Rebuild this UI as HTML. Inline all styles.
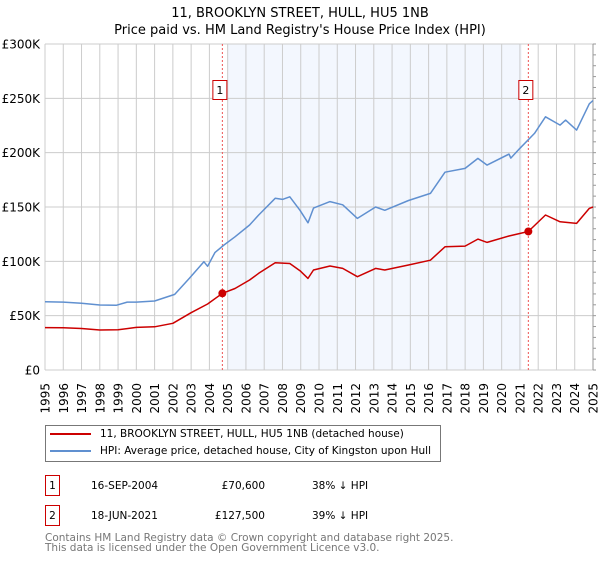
<!DOCTYPE html>
<html><head><meta charset="utf-8">
<style>
html,body{margin:0;padding:0;background:#fff;}
body{width:600px;height:560px;overflow:hidden;font-family:"DejaVu Sans","Liberation Sans",sans-serif;}
svg text{font-family:"DejaVu Sans","Liberation Sans",sans-serif;}
</style></head>
<body>
<svg id="chart" width="600" height="560" viewBox="0 0 600 560" xmlns="http://www.w3.org/2000/svg">
<text x="300" y="17" text-anchor="middle" font-size="13" fill="#000">11, BROOKLYN STREET, HULL, HU5 1NB</text>
<text x="300" y="34" text-anchor="middle" font-size="13" fill="#000">Price paid vs. HM Land Registry's House Price Index (HPI)</text>
<g id="plot"></g>
<g>
<rect x="45.5" y="425.5" width="395" height="36" fill="#fff" stroke="#777"/>
<line x1="50" y1="434" x2="91" y2="434" stroke="#cc0000" stroke-width="2"/>
<text x="100" y="437" font-size="10.5">11, BROOKLYN STREET, HULL, HU5 1NB (detached house)</text>
<line x1="50" y1="451" x2="91" y2="451" stroke="#6090d0" stroke-width="2"/>
<text x="100" y="454" font-size="10.5">HPI: Average price, detached house, City of Kingston upon Hull</text>
</g>
<g font-size="10.5">
<rect x="45.5" y="475.5" width="14" height="20" fill="#fff" stroke="#cc0000"/>
<text x="52.5" y="489" text-anchor="middle">1</text>
<text x="91" y="489">16-SEP-2004</text>
<text x="265" y="489" text-anchor="end">£70,600</text>
<text x="312" y="489">38% ↓ HPI</text>
<rect x="45.5" y="505.5" width="14" height="20" fill="#fff" stroke="#cc0000"/>
<text x="52.5" y="519" text-anchor="middle">2</text>
<text x="91" y="519">18-JUN-2021</text>
<text x="265" y="519" text-anchor="end">£127,500</text>
<text x="312" y="519">39% ↓ HPI</text>
</g>
<text x="45" y="541" font-size="10.5" fill="#777">Contains HM Land Registry data © Crown copyright and database right 2025.</text>
<text x="45" y="551" font-size="10.5" fill="#777">This data is licensed under the Open Government Licence v3.0.</text>
</svg>
<script>
const yTicks = [0, 50, 100, 150, 200, 250, 300];
const yTickLabels = ["£0","£50K","£100K","£150K","£200K","£250K","£300K"];
const years = [1995,1996,1997,1998,1999,2000,2001,2002,2003,2004,2005,2006,2007,2008,2009,2010,2011,2012,2013,2014,2015,2016,2017,2018,2019,2020,2021,2022,2023,2024,2025];
const hpiX = [1995.0,1996.0,1997.0,1998.0,1998.9,1999.5,2000.0,2001.0,2002.1,2002.9,2003.7,2003.9,2004.3,2004.8,2005.4,2006.2,2006.7,2007.6,2008.0,2008.4,2008.96,2009.4,2009.7,2010.6,2011.3,2012.1,2013.1,2013.6,2014.9,2016.1,2016.9,2018.0,2018.7,2019.2,2020.4,2020.5,2021.0,2021.8,2022.4,2023.2,2023.5,2024.1,2024.8,2025.0];
const hpiY = [62.8,62.5,61.5,59.8,59.5,62.5,62.5,63.5,69.6,84.3,99.7,95.4,108,115,122.6,133.4,142.6,158,157,159.4,147,135.5,149,155,152,139.5,150,147,156,162.5,182,185.5,194.7,188.6,198.7,195,204,217.7,233,225.4,230,220.8,245,248];
const propX = [1995.0,1996.0,1997.0,1998.0,1999.0,2000.0,2001.0,2002.0,2003.0,2003.9,2004.71,2005.4,2006.2,2006.7,2007.6,2008.4,2008.96,2009.4,2009.7,2010.6,2011.3,2012.1,2013.1,2013.6,2014.9,2016.1,2016.9,2018.0,2018.7,2019.2,2020.4,2021.46,2022.4,2023.2,2024.1,2024.8,2025.0];
const propY = [39,38.8,38.2,36.8,37,39.2,39.8,43,52.7,60.7,70.6,75,82.8,89,98.7,98,91.4,84.3,92,95.7,93.5,85.9,93.5,92,96.6,101,113.4,114,120.5,117.4,123.3,127.5,142.6,136.4,134.9,148.7,150];
const saleYears = [2004.71, 2021.46];
const salePrices = [70.6, 127.5];
const saleLabels = ["1","2"];

const L=45,R=593,T=44,B=370;
const xs = y => L + (y-1995)/30*(R-L);
const ys = v => B - v/300*(B-T);
const NS="http://www.w3.org/2000/svg";
const plot=document.getElementById('plot');
function mk(tag, attrs){const e=document.createElementNS(NS,tag);for(const k in attrs)e.setAttribute(k,attrs[k]);plot.appendChild(e);return e;}

const shade=mk('rect',{x:xs(2005.02),y:T,width:xs(2021.1)-xs(2005.02),height:B-T,fill:'#eef3fd',opacity:0.7});



years.forEach(yr=>{
  const g=mk('line',{x1:xs(yr),x2:xs(yr),y1:T,y2:B,stroke:'#cccccc','stroke-width':1});
  
  
  const t=mk('text',{x:0,y:0,'font-size':12,'text-anchor':'end',transform:`translate(${xs(yr)+4.5},${B+13}) rotate(-90)`});
  t.textContent=yr;
  
  
});
yTicks.forEach((v,i)=>{
  const g=mk('line',{x1:L,x2:R,y1:ys(v),y2:ys(v),stroke:'#cccccc','stroke-width':1});
  
  
  const t=mk('text',{x:40,y:ys(v)+4.5,'font-size':12,'text-anchor':'end'});
  t.textContent=yTickLabels[i];
  
  
});
const rax=mk('line',{x1:R,x2:R,y1:T,y2:B,stroke:'#999','stroke-width':1});


for(let v=0;v<=300;v+=10){
  const tk=mk('line',{x1:R,x2:R+3,y1:ys(v),y2:ys(v),stroke:'#999','stroke-width':1});
  
  
}
saleYears.forEach((yr,i)=>{
  const d=mk('line',{x1:xs(yr),x2:xs(yr),y1:T,y2:B,stroke:'#ee5555','stroke-width':1,'stroke-dasharray':'2,2'});
  
  
  const bx=mk('rect',{x:xs(yr)-9.5,y:80.5,width:14,height:19,fill:'#fff',stroke:'#cc0000'});
  
  
  const t=mk('text',{x:xs(yr)-2.5,y:94,'font-size':11,'text-anchor':'middle'});
  t.textContent=saleLabels[i];
  
  
});
function path(xa,ya){return xa.map((x,i)=>(i?'L':'M')+xs(x).toFixed(1)+','+ys(ya[i]).toFixed(1)).join('');}
const hp=mk('path',{d:path(hpiX,hpiY),fill:'none',stroke:'#6090d0','stroke-width':1.5,'stroke-linejoin':'round'});


const pp=mk('path',{d:path(propX,propY),fill:'none',stroke:'#cc0000','stroke-width':1.5,'stroke-linejoin':'round'});


saleYears.forEach((yr,i)=>{
  const c=mk('circle',{cx:xs(yr),cy:ys(salePrices[i]),r:4,fill:'#cc0000'});
  
  
});
</script>
</body></html>
